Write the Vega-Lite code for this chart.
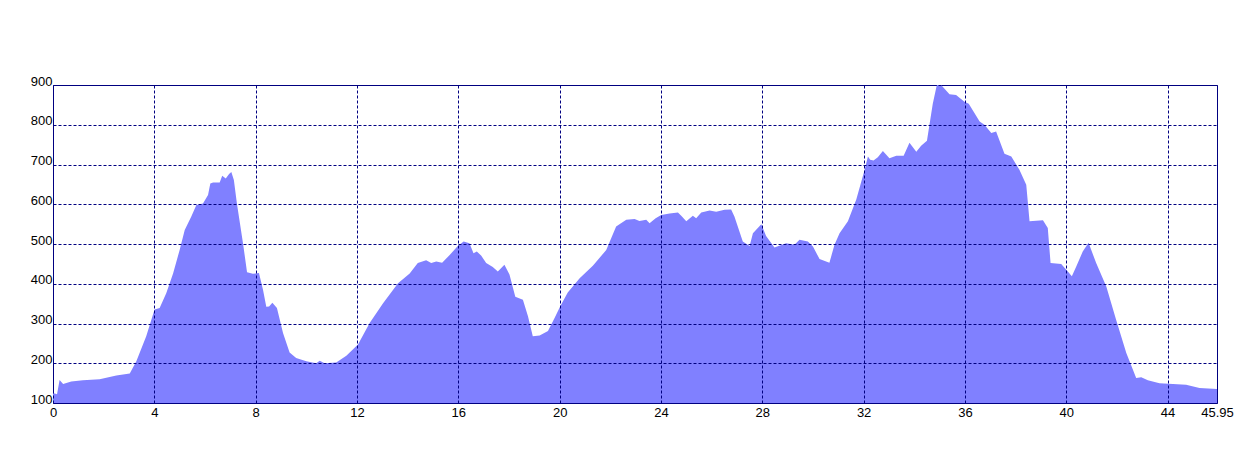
{
  "$schema": "https://vega.github.io/schema/vega-lite/v6.json",
  "width": 1164,
  "height": 318,
  "autosize": {"type": "none"},
  "padding": {"left": 53, "top": 85, "right": 41, "bottom": 72},
  "background": "white",
  "config": {
    "view": {"stroke": "#000080", "strokeWidth": 1},
    "axis": {
      "labelFont": "Liberation Sans",
      "labelFontSize": 13,
      "labelColor": "#000000",
      "ticks": false,
      "domain": false,
      "grid": true,
      "gridColor": "#000080",
      "gridDash": [3, 2],
      "gridWidth": 1,
      "gridOpacity": 1,
      "title": null
    }
  },
  "data": {
    "values": [
      {"km": 0, "ele": 125}, {"km": 0.16, "ele": 122}, {"km": 0.26, "ele": 158}, {"km": 0.4, "ele": 148},
      {"km": 0.72, "ele": 154}, {"km": 1.18, "ele": 157}, {"km": 1.84, "ele": 160}, {"km": 2.5, "ele": 169},
      {"km": 3.03, "ele": 174}, {"km": 3.29, "ele": 205}, {"km": 3.68, "ele": 268}, {"km": 4.01, "ele": 335},
      {"km": 4.21, "ele": 339}, {"km": 4.47, "ele": 376}, {"km": 4.74, "ele": 426}, {"km": 5.0, "ele": 485},
      {"km": 5.2, "ele": 535}, {"km": 5.46, "ele": 569}, {"km": 5.66, "ele": 598}, {"km": 5.92, "ele": 602},
      {"km": 6.12, "ele": 623}, {"km": 6.21, "ele": 652}, {"km": 6.32, "ele": 655}, {"km": 6.58, "ele": 655},
      {"km": 6.68, "ele": 672}, {"km": 6.82, "ele": 665}, {"km": 6.95, "ele": 676}, {"km": 7.04, "ele": 681},
      {"km": 7.14, "ele": 661}, {"km": 7.26, "ele": 602}, {"km": 7.5, "ele": 502}, {"km": 7.66, "ele": 429},
      {"km": 7.89, "ele": 425}, {"km": 8.13, "ele": 427}, {"km": 8.29, "ele": 385}, {"km": 8.42, "ele": 342},
      {"km": 8.53, "ele": 343}, {"km": 8.66, "ele": 352}, {"km": 8.84, "ele": 339}, {"km": 9.08, "ele": 276},
      {"km": 9.34, "ele": 227}, {"km": 9.6, "ele": 213}, {"km": 10.0, "ele": 205}, {"km": 10.39, "ele": 200},
      {"km": 10.53, "ele": 206}, {"km": 10.72, "ele": 200}, {"km": 11.18, "ele": 202}, {"km": 11.58, "ele": 219},
      {"km": 12.04, "ele": 247}, {"km": 12.5, "ele": 301}, {"km": 13.03, "ele": 351}, {"km": 13.62, "ele": 401},
      {"km": 14.08, "ele": 426}, {"km": 14.4, "ele": 452}, {"km": 14.73, "ele": 459}, {"km": 14.93, "ele": 452},
      {"km": 15.13, "ele": 456}, {"km": 15.36, "ele": 453}, {"km": 15.65, "ele": 472}, {"km": 15.98, "ele": 495},
      {"km": 16.21, "ele": 506}, {"km": 16.44, "ele": 502}, {"km": 16.6, "ele": 477}, {"km": 16.73, "ele": 481},
      {"km": 16.9, "ele": 471}, {"km": 17.1, "ele": 452}, {"km": 17.36, "ele": 442}, {"km": 17.56, "ele": 431},
      {"km": 17.82, "ele": 448}, {"km": 18.02, "ele": 423}, {"km": 18.25, "ele": 367}, {"km": 18.55, "ele": 360},
      {"km": 18.75, "ele": 318}, {"km": 18.94, "ele": 268}, {"km": 19.21, "ele": 270}, {"km": 19.54, "ele": 281},
      {"km": 19.8, "ele": 314}, {"km": 20.02, "ele": 343}, {"km": 20.32, "ele": 378}, {"km": 20.79, "ele": 414},
      {"km": 21.31, "ele": 445}, {"km": 21.84, "ele": 485}, {"km": 22.23, "ele": 544}, {"km": 22.63, "ele": 561},
      {"km": 22.96, "ele": 563}, {"km": 23.15, "ele": 558}, {"km": 23.42, "ele": 561}, {"km": 23.55, "ele": 552},
      {"km": 23.79, "ele": 565}, {"km": 24.01, "ele": 573}, {"km": 24.34, "ele": 577}, {"km": 24.67, "ele": 579},
      {"km": 24.8, "ele": 571}, {"km": 25.0, "ele": 557}, {"km": 25.26, "ele": 571}, {"km": 25.39, "ele": 565},
      {"km": 25.59, "ele": 579}, {"km": 25.92, "ele": 584}, {"km": 26.18, "ele": 581}, {"km": 26.51, "ele": 586},
      {"km": 26.77, "ele": 587}, {"km": 26.9, "ele": 569}, {"km": 27.23, "ele": 506}, {"km": 27.5, "ele": 495},
      {"km": 27.63, "ele": 527}, {"km": 27.96, "ele": 550}, {"km": 28.15, "ele": 520}, {"km": 28.48, "ele": 491},
      {"km": 28.94, "ele": 502}, {"km": 29.27, "ele": 498}, {"km": 29.47, "ele": 511}, {"km": 29.8, "ele": 506},
      {"km": 30.0, "ele": 494}, {"km": 30.26, "ele": 462}, {"km": 30.65, "ele": 453}, {"km": 30.85, "ele": 498},
      {"km": 31.05, "ele": 527}, {"km": 31.38, "ele": 557}, {"km": 31.71, "ele": 612}, {"km": 32.04, "ele": 687},
      {"km": 32.17, "ele": 720}, {"km": 32.26, "ele": 712}, {"km": 32.39, "ele": 710}, {"km": 32.56, "ele": 718},
      {"km": 32.76, "ele": 734}, {"km": 33.02, "ele": 716}, {"km": 33.29, "ele": 722}, {"km": 33.58, "ele": 722},
      {"km": 33.81, "ele": 755}, {"km": 34.08, "ele": 732}, {"km": 34.27, "ele": 747}, {"km": 34.5, "ele": 760},
      {"km": 34.73, "ele": 853}, {"km": 34.89, "ele": 900}, {"km": 35.06, "ele": 900}, {"km": 35.39, "ele": 877},
      {"km": 35.65, "ele": 875}, {"km": 35.98, "ele": 858}, {"km": 36.15, "ele": 853}, {"km": 36.58, "ele": 808},
      {"km": 36.77, "ele": 800}, {"km": 37.04, "ele": 779}, {"km": 37.23, "ele": 783}, {"km": 37.56, "ele": 727},
      {"km": 37.83, "ele": 720}, {"km": 38.15, "ele": 687}, {"km": 38.42, "ele": 649}, {"km": 38.55, "ele": 557},
      {"km": 39.08, "ele": 560}, {"km": 39.27, "ele": 540}, {"km": 39.38, "ele": 452}, {"km": 39.8, "ele": 450},
      {"km": 40.06, "ele": 431}, {"km": 40.22, "ele": 419}, {"km": 40.39, "ele": 443}, {"km": 40.65, "ele": 481},
      {"km": 40.88, "ele": 503}, {"km": 41.18, "ele": 452}, {"km": 41.58, "ele": 393}, {"km": 41.97, "ele": 309},
      {"km": 42.37, "ele": 226}, {"km": 42.76, "ele": 163}, {"km": 42.96, "ele": 165}, {"km": 43.22, "ele": 157},
      {"km": 43.68, "ele": 150}, {"km": 44.21, "ele": 148}, {"km": 44.73, "ele": 146}, {"km": 45.26, "ele": 138},
      {"km": 45.95, "ele": 135}
    ]
  },
  "mark": {"type": "area", "color": "#8080FF", "opacity": 1, "clip": true, "interpolate": "linear"},
  "encoding": {
    "x": {
      "field": "km",
      "type": "quantitative",
      "scale": {"domain": [0, 45.95], "nice": false, "zero": false},
      "axis": {
        "zindex": 1,
        "values": [0, 4, 8, 12, 16, 20, 24, 28, 32, 36, 40, 44, 45.95],
        "labelExpr": "datum.value == 45.95 ? '45.95' : format(datum.value, 'd')",
        "labelPadding": 3,
        "labelFlush": false,
        "labelOverlap": false
      }
    },
    "y": {
      "field": "ele",
      "type": "quantitative",
      "scale": {"domain": [100, 900], "nice": false, "zero": false},
      "axis": {
        "zindex": 1,
        "values": [100, 200, 300, 400, 500, 600, 700, 800, 900],
        "labelBaseline": "alphabetic",
        "labelPadding": 1,
        "labelFlush": false,
        "labelOverlap": false
      }
    }
  }
}
